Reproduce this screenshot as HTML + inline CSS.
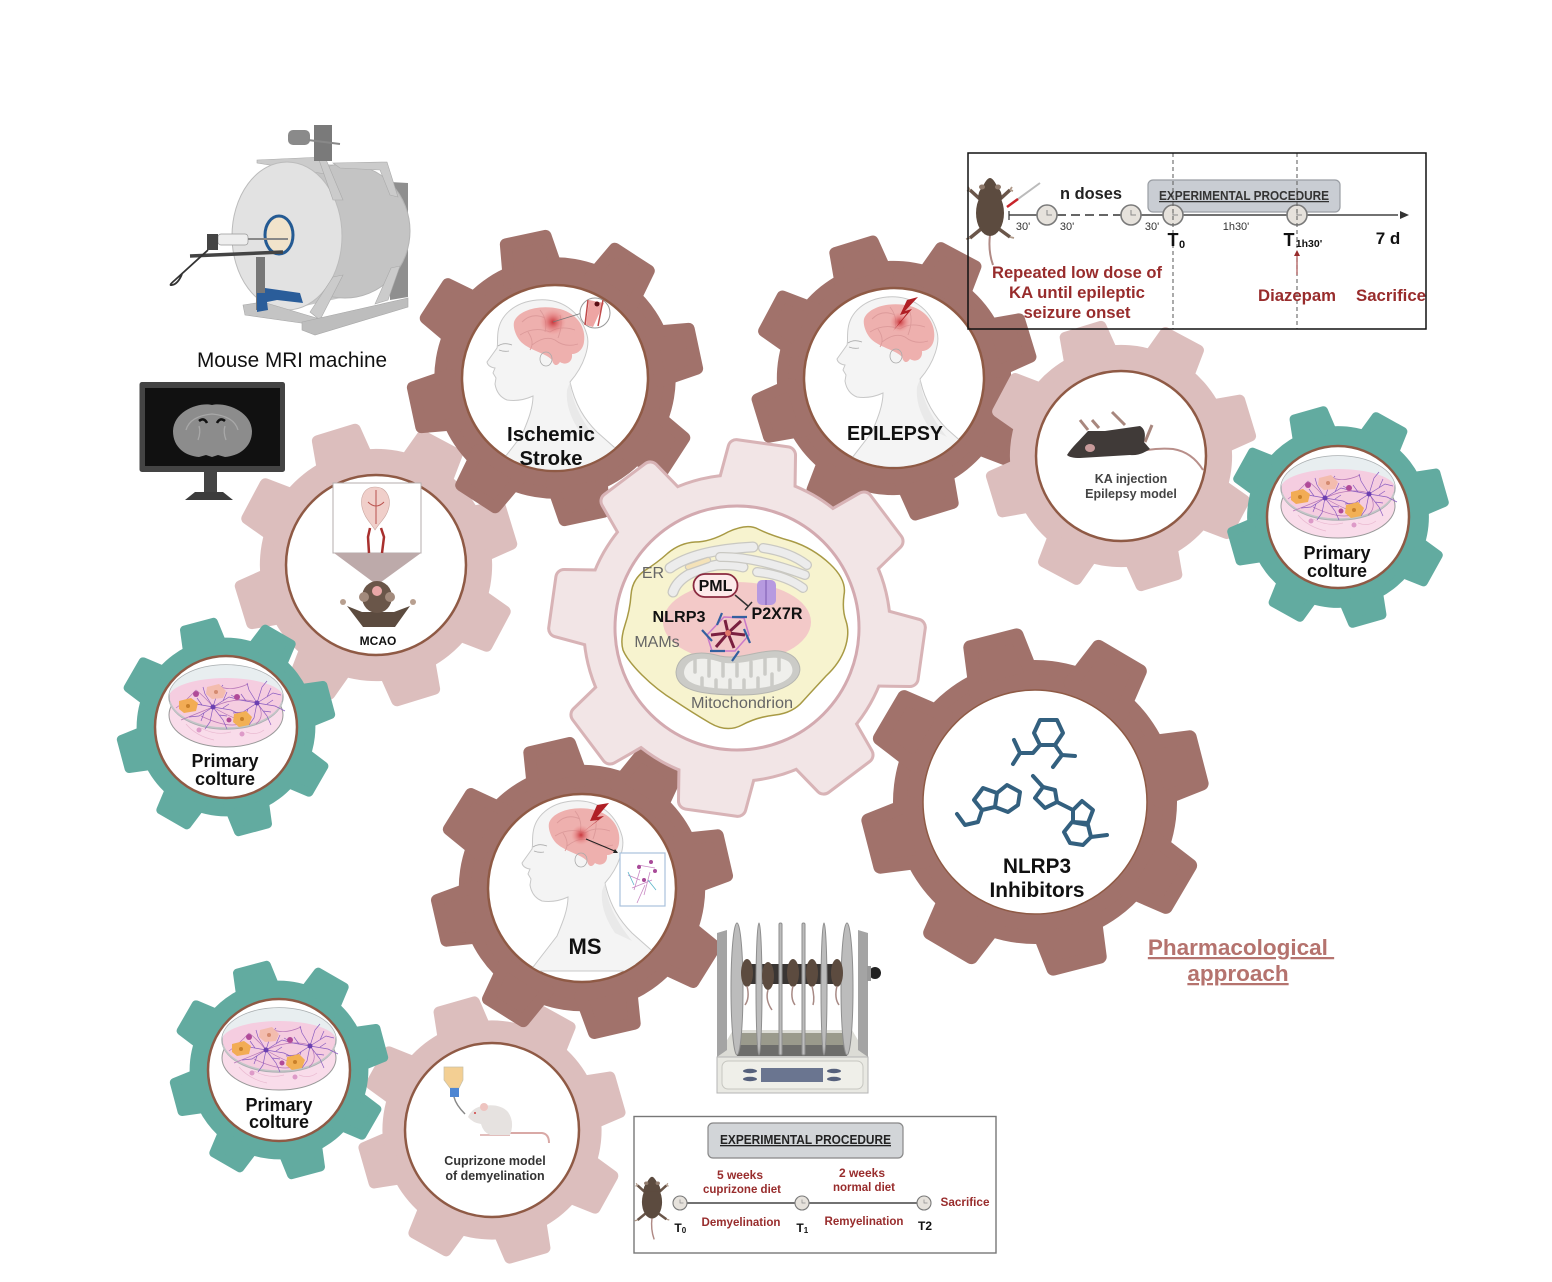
<!DOCTYPE html>
<html>
<head>
<meta charset="utf-8">
<style>
html,body{margin:0;padding:0;background:#fff}
svg{display:block}
text{font-family:"Liberation Sans",sans-serif}
.b{font-weight:700;fill:#111;text-anchor:middle}
.r{font-weight:700;fill:#982c2c;text-anchor:middle}
.g{fill:#666;text-anchor:middle}
</style>
</head>
<body>
<svg width="1552" height="1282" viewBox="0 0 1552 1282" xmlns="http://www.w3.org/2000/svg">
<defs>
<path id="t" d="M86 -21L118 -17L118 17L86 21Z" stroke-linejoin="round"/>
<g id="gear">
<circle r="96"/>
<use href="#t"/><use href="#t" transform="rotate(45)"/><use href="#t" transform="rotate(90)"/><use href="#t" transform="rotate(135)"/>
<use href="#t" transform="rotate(180)"/><use href="#t" transform="rotate(225)"/><use href="#t" transform="rotate(270)"/><use href="#t" transform="rotate(315)"/>
</g>
<clipPath id="c1"><circle cx="555" cy="378" r="92"/></clipPath>
<clipPath id="c2"><circle cx="894" cy="378" r="89"/></clipPath>
<clipPath id="c3"><circle cx="582" cy="888" r="93"/></clipPath>
<radialGradient id="les"><stop offset="0" stop-color="#c8363c"/><stop offset="1" stop-color="#e88" stop-opacity="0"/></radialGradient>
<g id="head">
<path d="M537 300C515 302 500 315 498 332C497 340 498 345 497 348L487 362Q488 367 495 368L493 373L496 378L495 384Q497 396 507 400Q520 402 533 396C533 410 526 425 522 435L495 470L640 470L597 432C585 420 575 405 570 382C585 365 590 345 587 335C580 310 560 298 537 300Z" fill="#f4f4f4" stroke="#c8c8c8" stroke-width="1"/>
<path d="M498 346Q504 342 512 345M499 350Q504 352 509 351" fill="none" stroke="#aaa" stroke-width=".8"/>
<path d="M570 382C572 405 585 425 597 440L580 432Q565 410 567 390Z" fill="#e9e9e9"/>
<path d="M514 322C518 310 540 304 560 309C578 314 586 328 584 342C583 350 577 354 572 354C573 362 566 366 560 362C556 368 553 364 552 360C545 352 525 350 518 338C515 333 513 327 514 322Z" fill="#eeb0ae"/>
<path d="M522 322Q532 312 545 318M520 335Q534 326 550 332Q560 325 575 330M532 345Q545 335 555 340Q565 348 578 344M540 310Q548 320 545 332M560 315Q563 325 558 338M530 350Q535 342 528 332" fill="none" stroke="#dc9a9a" stroke-width=".9"/>
<ellipse cx="546" cy="359" rx="6" ry="7" fill="none" stroke="#aaa" stroke-width=".8"/>
</g>
<g id="star" stroke="#8a5cc0" stroke-width=".7" fill="none">
<path d="M0 0L16 -10L24 -8M0 0L18 3L28 8M0 0L10 13L14 22M0 0L-3 15L-8 22M0 0L-14 9L-24 10M0 0L-17 -3L-26 -8M0 0L-8 -13L-10 -20M0 0L5 -16L10 -22M10 -6L14 -15M10 1L16 -3M6 8L14 9M-9 6L-12 14M-11 -2L-16 -9"/>
<circle r="2.500" fill="#6a3fb0" stroke="none"/>
</g>
<g id="dish">
<ellipse cx="0" cy="9" rx="57" ry="32" fill="#f9dcea" stroke="#999" stroke-width="1"/>
<ellipse cx="0" cy="-9" rx="57" ry="32" fill="#f5cde0" stroke="#a9aeb0" stroke-width="1.400"/>
<path d="M-57 -9A57 32 0 0 1 57 -9A57 19 0 0 0 -57 -9Z" fill="#e8eef0"/>
<path d="M-56 -5A57 32 0 0 0 56 -5" fill="none" stroke="#c4c6c8" stroke-width="1.500" transform="translate(0,1)"/>
<path d="M-13 1Q10 -10 31 -4M-13 1Q-30 8 -45 14M-13 1Q5 12 20 16M31 -4Q40 10 30 18M-30 -16Q-20 -8 -13 1M-8 -20Q5 -14 22 -22M-50 2Q-40 -5 -30 -16M14 18Q0 22 -25 10" fill="none" stroke="#b878b8" stroke-width=".7"/>
<path d="M-25 22Q-10 30 5 26M-40 18Q-30 30 -12 34M20 26Q30 30 38 24" fill="none" stroke="#e9b9d0" stroke-width=".7"/>
<use href="#star" x="-13" y="1"/><use href="#star" x="31" y="-3"/>
<path d="M-47 -5L-35 -8L-28 -3L-30 5L-42 7L-47 3Z" fill="#f2ac55"/><circle cx="-38" cy="0" r="2" fill="#c9802a"/>
<path d="M8 8L20 5L26 11L23 19L13 21L7 16Z" fill="#f2b055"/><circle cx="16" cy="13" r="2" fill="#c9802a"/>
<path d="M-19 -19L-7 -22L0 -15L-3 -8L-14 -7L-20 -12Z" fill="#f3bcae"/><circle cx="-10" cy="-14" r="2" fill="#d48a70"/>
<circle cx="-30" cy="-12" r="3" fill="#b04a98"/><circle cx="11" cy="-9" r="3" fill="#b04a98"/><circle cx="3" cy="14" r="2.500" fill="#b04a98"/><circle cx="-27" cy="24" r="2.500" fill="#dd9ac8"/><circle cx="16" cy="28" r="2.500" fill="#dd9ac8"/>
</g>
<g id="ms">
<path d="M0 22Q-2 38 3 52" fill="none" stroke="#b08a85" stroke-width="2"/>
<path d="M-8 -12L-20 -23M8 -12L20 -23M-9 16L-20 25M9 16L20 24" stroke="#6a564a" stroke-width="3.500" fill="none"/>
<path d="M-20 -23l-2 -3M-20 -23l-3 1M20 -23l2 -3M20 -23l3 1M-20 25l-4 1M20 24l4 1" stroke="#b09a8a" stroke-width="1.800"/>
<ellipse cx="0" cy="0" rx="14" ry="23" fill="#5c4b3f"/>
<path d="M-12 -14Q-12 -22 -7 -27Q-3 -35 0 -35Q3 -35 7 -27Q12 -22 12 -14Z" fill="#5c4b3f"/>
<ellipse cx="-8" cy="-26" rx="3" ry="2.500" fill="#8f7a6c"/><ellipse cx="8" cy="-26" rx="3" ry="2.500" fill="#8f7a6c"/>
</g>
<g id="clk">
<circle r="10" fill="#e6e2dc" stroke="#7a7a7a" stroke-width="1.600"/>
<path d="M0 -5V0H5" fill="none" stroke="#8a8a8a" stroke-width="1"/>
</g>
</defs>

<!-- gears back to front -->
<g transform="translate(376,565) rotate(-17) scale(1.15)"><use href="#gear" fill="#dcbebd" stroke="#dcbebd" stroke-width="10"/></g>
<g transform="translate(226,727) rotate(-15) scale(.885)"><use href="#gear" fill="#62aba0" stroke="#62aba0" stroke-width="10"/></g>
<g transform="translate(555,378) rotate(-12) scale(1.195)"><use href="#gear" fill="#a1726b" stroke="#a1726b" stroke-width="10"/></g>
<g transform="translate(894,378) rotate(-17) scale(1.16)"><use href="#gear" fill="#a1726b" stroke="#a1726b" stroke-width="10"/></g>
<g transform="translate(1121,456) rotate(-17) scale(1.1)"><use href="#gear" fill="#dcbebd" stroke="#dcbebd" stroke-width="10"/></g>
<g transform="translate(1338,517) rotate(-16) scale(.9)"><use href="#gear" fill="#62aba0" stroke="#62aba0" stroke-width="10"/></g>
<g transform="translate(492,1130) rotate(-16) scale(1.085)"><use href="#gear" fill="#dcbebd" stroke="#dcbebd" stroke-width="10"/></g>
<g transform="translate(279,1070) rotate(-15) scale(.885)"><use href="#gear" fill="#62aba0" stroke="#62aba0" stroke-width="10"/></g>
<g transform="translate(582,888) rotate(-13) scale(1.22)"><use href="#gear" fill="#a1726b" stroke="#a1726b" stroke-width="10"/></g>
<g transform="translate(1035,802) rotate(-14.5) scale(1.406)"><use href="#gear" fill="#a1726b" stroke="#a1726b" stroke-width="10"/></g>
<g transform="translate(737,628) rotate(8) scale(1.51)"><use href="#gear" fill="#d8b3b6" stroke="#d8b3b6" stroke-width="13"/><use href="#gear" fill="#f2e5e6" stroke="#f2e5e6" stroke-width="9"/></g>

<!-- inner circles -->
<g fill="#fff" stroke="#8f5a45" stroke-width="2.500">
<circle cx="376" cy="565" r="90"/>
<circle cx="226" cy="727" r="71"/>
<circle cx="555" cy="378" r="93"/>
<circle cx="894" cy="378" r="90"/>
<circle cx="1121" cy="456" r="85"/>
<circle cx="1338" cy="517" r="71"/>
<circle cx="492" cy="1130" r="87"/>
<circle cx="279" cy="1070" r="71"/>
<circle cx="582" cy="888" r="94"/>
</g>
<circle cx="1035" cy="802" r="112" fill="#fff" stroke="#8f5a45" stroke-width="1.500"/>
<circle cx="737" cy="628" r="122" fill="#fff" stroke="#d3aab0" stroke-width="3"/>

<!-- MRI -->
<polygon points="390,182 408,183 408,297 390,300" fill="#8f8f8f"/>
<polygon points="287,163 345,165 345,297 287,310" fill="#c6c6c6"/>
<ellipse cx="345" cy="231" rx="65" ry="67" fill="#c4c4c4" stroke="#b4b4b4"/>
<polygon points="257,160 323,157 332,175 257,163" fill="#cbcbcb" stroke="#aaa" stroke-width=".6"/>
<polygon points="333,163 387,162 398,197 390,195 380,170 340,168" fill="#cbcbcb" stroke="#aaa" stroke-width=".6"/>
<ellipse cx="287" cy="236" rx="55" ry="74" fill="#e2e2e2" stroke="#bbb"/>
<polygon points="318,157 325,157 343,200 333,200" fill="#cbcbcb" stroke="#aaa" stroke-width=".6"/>
<polygon points="320,320 343,275 333,277 310,312" fill="#cbcbcb" stroke="#aaa" stroke-width=".6"/>
<polygon points="388,300 400,266 391,268 375,304" fill="#cbcbcb" stroke="#aaa" stroke-width=".6"/>
<rect x="314" y="125" width="18" height="36" fill="#7a7a7a"/>
<rect x="288" y="130" width="22" height="15" rx="5" fill="#8a8a8a"/>
<path d="M308 140L340 144" stroke="#888" stroke-width="2"/>
<polygon points="243,305 263,302 323,320 315,325 245,315" fill="#c4c4c4" stroke="#a8a8a8" stroke-width=".6"/>
<polygon points="302,322 408,298 408,307 315,335 302,330" fill="#bdbdbd" stroke="#a8a8a8" stroke-width=".6"/>
<ellipse cx="279" cy="235" rx="14" ry="19" fill="#f1e3cb" stroke="#245a93" stroke-width="3"/>
<rect x="218" y="234" width="30" height="11" rx="3" fill="#eee" stroke="#999" stroke-width=".7"/>
<path d="M248 239H288" stroke="#888" stroke-width="2"/>
<rect x="207" y="234" width="11" height="16" fill="#444"/>
<path d="M190 256L283 252" stroke="#444" stroke-width="3.500"/>
<rect x="256" y="257" width="9" height="53" fill="#777"/>
<polygon points="257,293 265,293 265,288 300,293 303,303 277,300 267,302 268,310 257,312" fill="#2a5d9a"/>
<path d="M208 250L175 280Q168 286 172 285Q178 284 182 274" fill="none" stroke="#333" stroke-width="1.800"/>
<text x="292" y="367" font-size="21" fill="#111" text-anchor="middle" textLength="190" lengthAdjust="spacingAndGlyphs">Mouse MRI machine</text>

<!-- monitor -->
<rect x="139.500" y="382" width="145.500" height="90" rx="2.500" fill="#444"/>
<rect x="145" y="388" width="135" height="78" fill="#111"/>
<rect x="204" y="472" width="13" height="20" fill="#444"/>
<polygon points="195,492 223,492 233,500 185,500" fill="#3c3c3c"/>
<path d="M212 405C200 402 174 410 173 431C173 448 186 456 199 457L206 455L212 457L218 455L225 457C238 456 252 448 252 431C251 410 224 402 212 405Z" fill="#8c8c8c"/>
<path d="M186 430Q190 416 212 414Q234 416 238 430M198 440Q201 432 199 426M226 440Q223 432 225 426" stroke="#a8a8a8" fill="none" stroke-width="1.300"/>
<path d="M199 421Q204 417 207 423M217 423Q220 417 225 421" stroke="#111" fill="none" stroke-width="2.500"/>

<!-- MCAO -->
<rect x="333" y="483" width="88" height="70" fill="#fff" stroke="#b5adad" stroke-width="1"/>
<polygon points="334,553 421,553 377,585" fill="#bdaaaa"/>
<path d="M375 487C364 487 360 497 362 507C364 517 370 522 375 530C380 522 387 517 389 507C391 497 386 487 375 487Z" fill="#f0cfca" stroke="#c9a6a0" stroke-width=".6"/>
<path d="M376 490V524M368 502Q376 510 384 502" stroke="#b9524e" fill="none" stroke-width="1"/>
<path d="M370 528L368 537L369 553M381 528L384 537L382 553" stroke="#a8302e" fill="none" stroke-width="2.500"/>
<path d="M347 606L363 627H395L410 606L394 612H362Z" fill="#5c4b3f"/>
<ellipse cx="377" cy="597" rx="15" ry="16" fill="#6a5649"/>
<ellipse cx="364" cy="597" rx="5" ry="5" fill="#a28a7c"/><ellipse cx="390" cy="597" rx="5" ry="5" fill="#a28a7c"/>
<circle cx="377" cy="591" r="5" fill="#e9a7a7"/>
<circle cx="343" cy="602" r="3" fill="#b8a090"/><circle cx="413" cy="602" r="3" fill="#b8a090"/>
<text class="b" x="378" y="645" font-size="12">MCAO</text>

<!-- dishes -->
<use href="#dish" x="1338" y="497"/>
<use href="#dish" x="226" y="706"/>
<use href="#dish" x="279" y="1049"/>
<text class="b" font-size="18" x="1337" y="559">Primary</text><text class="b" font-size="18" x="1337" y="577">colture</text>
<text class="b" font-size="18" x="225" y="767">Primary</text><text class="b" font-size="18" x="225" y="785">colture</text>
<text class="b" font-size="18" x="279" y="1111">Primary</text><text class="b" font-size="18" x="279" y="1128">colture</text>

<!-- ischemic head -->
<g clip-path="url(#c1)"><use href="#head"/><circle cx="553" cy="322" r="13" fill="url(#les)"/></g>
<path d="M553 322L582 313" stroke="#777" stroke-width=".7"/>
<circle cx="595" cy="313" r="15" fill="#fff" stroke="#999"/>
<path d="M589 300L586 325L593 327L604 303Z" fill="#eea5a3"/>
<path d="M588 300L585 325M603 300L598 326" stroke="#c04a4a" stroke-width="1.500"/>
<circle cx="597" cy="304" r="2.500" fill="#5a0e14"/>
<text class="b" x="551" y="441" font-size="20.500" textLength="88" lengthAdjust="spacingAndGlyphs">Ischemic</text>
<text class="b" x="551" y="465" font-size="20.500" textLength="63" lengthAdjust="spacingAndGlyphs">Stroke</text>

<!-- epilepsy head -->
<g clip-path="url(#c2)"><use href="#head" x="350" y="-3"/><circle cx="900" cy="322" r="10" fill="url(#les)"/></g>
<polygon points="918,297 907,300 900,315 907,313 893,331 912,309 905,311" fill="#b01f25"/>
<text class="b" x="895" y="440" font-size="20" textLength="96" lengthAdjust="spacingAndGlyphs">EPILEPSY</text>

<!-- MS head -->
<g clip-path="url(#c3)"><use href="#head" x="35" y="501"/><circle cx="581" cy="835" r="10" fill="url(#les)"/></g>
<polygon points="609,803 597,805 590,821 598,820 583,832 604,816 597,817" fill="#b01f25"/>
<path d="M586 839L617 852" stroke="#222" stroke-width="1"/>
<polygon points="618,853 613,853 615,849" fill="#222"/>
<rect x="620" y="853" width="45" height="53" fill="#fff" stroke="#a9c2dd" stroke-width="1.200"/>
<path d="M638 865L655 868M640 870L634 890M650 872L644 895M628 875L640 880M632 888L652 880M645 885L637 903" stroke="#c98ac4" stroke-width=".8"/>
<path d="M628 872L634 885M648 880L656 890" stroke="#5bb5c8" stroke-width=".8"/>
<circle cx="639" cy="867" r="2" fill="#a84a98"/><circle cx="651" cy="862" r="2" fill="#a84a98"/><circle cx="644" cy="880" r="2" fill="#a84a98"/><circle cx="655" cy="871" r="2" fill="#a84a98"/>
<text class="b" x="585" y="954" font-size="22">MS</text>

<!-- KA mouse -->
<path d="M1147 450Q1160 448 1173 449Q1192 452 1203 470" fill="none" stroke="#b88f8a" stroke-width="2"/>
<path d="M1080 420L1088 430M1092 420L1099 428M1112 412L1125 425M1152 425L1145 442" stroke="#a8877e" stroke-width="3" fill="none"/>
<path d="M1067 455C1072 447 1080 440 1088 431L1105 431L1140 426Q1147 430 1144 442L1150 449Q1140 456 1130 455L1080 458Q1070 458 1067 455Z" fill="#403a38"/>
<ellipse cx="1090" cy="448" rx="5" ry="4" fill="#c89a9a"/>
<text x="1131" y="483" font-size="12.500" font-weight="700" fill="#444" text-anchor="middle">KA injection</text>
<text x="1131" y="498" font-size="12.500" font-weight="700" fill="#444" text-anchor="middle">Epilepsy model</text>

<!-- center cell -->
<path d="M695 542Q710 542 728 532Q747 523 758 529Q770 535 791 541Q813 548 830 564Q847 580 844 595Q842 610 846 621Q850 633 845 648Q840 663 826 676Q813 690 803 701Q793 713 775 715Q757 717 742 725Q727 733 710 723Q693 713 675 701Q657 690 642 675Q627 660 623 650Q620 640 625 625Q630 610 631 595Q632 580 644 571Q657 563 668 553Q680 543 695 542Z" fill="#f7f3cf" stroke="#a89a45" stroke-width="1.500"/>
<ellipse cx="737" cy="622" rx="74" ry="40" fill="#f3c9c8"/>
<g fill="none" stroke-linecap="round">
<g stroke="#c9c8c2" stroke-width="11"><path d="M673 592Q680 572 717 565Q732 564 743 567"/><path d="M670 568Q695 550 753 547"/></g>
<g stroke="#ececec" stroke-width="8.500"><path d="M673 592Q680 572 717 565Q732 564 743 567"/><path d="M670 568Q695 550 753 547"/></g>
<path d="M688 567L708 560" stroke="#c9c8c2" stroke-width="6.500"/><path d="M688 567L708 560" stroke="#f4e2b8" stroke-width="4"/>
<path d="M720 557Q753 556 805 575" stroke="#c9c8c2" stroke-width="10"/><path d="M720 557Q753 556 805 575" stroke="#ececec" stroke-width="7.500"/>
<path d="M763 548Q790 552 807 565" stroke="#c9c8c2" stroke-width="10"/><path d="M763 548Q790 552 807 565" stroke="#ececec" stroke-width="7.500"/>
<path d="M757 572Q785 575 803 588" stroke="#c9c8c2" stroke-width="10"/><path d="M757 572Q785 575 803 588" stroke="#ececec" stroke-width="7.500"/>
</g>
<path d="M676 672C678 652 700 650 720 656C745 662 775 640 795 658C810 675 790 695 740 695C700 695 676 690 676 672Z" fill="#cbcbc7" stroke="#b5b5b0"/>
<path d="M684 672C686 658 702 656 720 662C745 668 772 650 789 662C800 675 785 689 740 689C705 689 684 685 684 672Z" fill="#efefec"/>
<path d="M695 659V672M709 660V676M723 662V676M737 664V676M751 662V676M765 658V674M779 654V670M702 688V678M716 689V680M730 689V680M744 689V680M758 688V678M772 686V674" stroke="#cbcbc7" stroke-width="3.500" stroke-linecap="round" fill="none"/>
<rect x="757" y="580" width="19" height="25" rx="5" fill="#b79ae0"/>
<path d="M766 580V605" stroke="#8f6fc0" stroke-width="1.500"/>
<rect x="693.500" y="574" width="44" height="23" rx="11.500" fill="#fdeaea" stroke="#8a2a3f" stroke-width="1.800"/>
<text class="b" x="715.500" y="591" font-size="16">PML</text>
<path d="M735 595L748 606M752 602L745 610" stroke="#333" stroke-width="1.500" fill="none"/>
<g transform="translate(728,633)">
<polygon points="-4,-16 16,-15 21,2 7,18 -16,18 -21,2" fill="none" stroke="#c97ac9" stroke-width="1.500"/>
<path d="M0 0L-3 -13M0 0L13 -12M0 0L17 2M0 0L6 15M0 0L-12 14M0 0L-17 2" stroke="#7a2040" stroke-width="3"/>
<circle r="3" fill="#e2786a"/>
<path d="M-6 -20L-11 -8M4 -16H19M16 -4L22 10M11 18L4 28M-18 18H-3M-26 -3L-16 8" stroke="#33609f" stroke-width="2.200"/>
</g>
<text class="b" x="679" y="622" font-size="16" textLength="53" lengthAdjust="spacingAndGlyphs">NLRP3</text>
<text class="b" x="777" y="619" font-size="16.500" textLength="51" lengthAdjust="spacingAndGlyphs">P2X7R</text>
<text class="g" x="653" y="578" font-size="16">ER</text>
<text class="g" x="657" y="647" font-size="16">MAMs</text>
<text class="g" x="742" y="708" font-size="16" textLength="102" lengthAdjust="spacingAndGlyphs">Mitochondrion</text>

<!-- inhibitors -->
<g fill="none" stroke="#33607f" stroke-width="4" stroke-linejoin="round" stroke-linecap="round">
<polygon points="1040,720 1057,720 1063,733 1055,745 1040,745 1034,733"/>
<path d="M1040 745L1033 753L1020 753L1014 740M1020 753L1013 764M1055 745L1062 755L1075 756M1062 755L1053 767"/>
<polygon points="1007,785 1020,792 1018,805 1008,812 995,807 997,793"/>
<path d="M997 793L983 788L974 800L982 810L995 807M982 810L978 822L965 825L957 814"/>
<polygon points="1043,787 1055,790 1057,802 1045,808 1035,798"/>
<path d="M1043 787L1033 776M1057 802L1073 810"/>
<polygon points="1073,810 1082,801 1093,810 1088,823 1073,822"/>
<polygon points="1072,822 1088,825 1091,837 1083,845 1070,843 1064,832"/>
<path d="M1091 837L1107 835"/>
</g>
<text class="b" x="1037" y="873" font-size="21" textLength="68" lengthAdjust="spacingAndGlyphs">NLRP3</text>
<text class="b" x="1037" y="897" font-size="21" textLength="95" lengthAdjust="spacingAndGlyphs">Inhibitors</text>

<!-- pharmacological -->
<text x="1241" y="955" font-size="22.500" font-weight="700" fill="#b5736e" text-anchor="middle" text-decoration="underline" xml:space="preserve">Pharmacological </text>
<text x="1238" y="981" font-size="22.500" font-weight="700" fill="#b5736e" text-anchor="middle" text-decoration="underline">approach</text>

<!-- rack -->
<polygon points="717,1057 733,1030 852,1030 868,1057" fill="#dcdcd6"/>
<rect x="737" y="1033" width="110" height="12" fill="#9a9a8c"/>
<rect x="737" y="1045" width="110" height="11" fill="#6d6d6b"/>
<polygon points="717,933 727,930 727,1050 717,1057" fill="#a4a4a4"/>
<polygon points="858,930 868,933 868,1057 858,1050" fill="#a4a4a4"/>
<rect x="738" y="964" width="109" height="20" fill="#3a3634"/>
<g fill="#bcbcbc" stroke="#8e8e8e">
<ellipse cx="737" cy="989" rx="6" ry="66"/><ellipse cx="847" cy="989" rx="6" ry="66"/>
<ellipse cx="759" cy="989" rx="3" ry="66"/><ellipse cx="824" cy="989" rx="3" ry="66"/>
<rect x="779" y="923" width="3" height="132" rx="1.500"/><rect x="802" y="923" width="3" height="132" rx="1.500"/>
</g>
<g fill="#5c4b3f">
<ellipse cx="747" cy="973" rx="6" ry="14"/><ellipse cx="768" cy="976" rx="6" ry="14"/><ellipse cx="793" cy="973" rx="6" ry="14"/><ellipse cx="812" cy="973" rx="6" ry="14"/><ellipse cx="837" cy="973" rx="6" ry="14"/>
</g>
<g stroke="#a88a85" fill="none" stroke-width="1.500">
<path d="M747 986Q750 998 745 1005"/><path d="M768 990Q765 1000 772 1010"/><path d="M793 986Q790 998 795 1005"/><path d="M812 986Q815 998 813 1005"/><path d="M837 986Q834 998 839 1005"/>
</g>
<circle cx="875" cy="973" r="6" fill="#222"/><rect x="867" y="966" width="4" height="15" fill="#999"/>
<rect x="717" y="1057" width="151" height="36" fill="#e9e9e3" stroke="#b5b5b5"/>
<rect x="722" y="1061" width="141" height="28" rx="6" fill="#efefe9" stroke="#c7c7c1"/>
<rect x="761" y="1068" width="62" height="14" fill="#6a7590"/>
<g fill="#56617c"><ellipse cx="750" cy="1071" rx="7" ry="2.200"/><ellipse cx="750" cy="1079" rx="7" ry="2.200"/><ellipse cx="834" cy="1071" rx="7" ry="2.200"/><ellipse cx="834" cy="1079" rx="7" ry="2.200"/></g>

<!-- cuprizone -->
<path d="M444 1067H463V1080L459 1088H450L444 1080Z" fill="#f3cf93" stroke="#c8c0a8" stroke-width=".7"/>
<rect x="450" y="1088" width="9" height="9" fill="#4e86d2"/>
<path d="M454 1097Q456 1105 465 1114" stroke="#888" stroke-width="1.500" fill="none"/>
<path d="M510 1133H542Q549 1134 549 1143" fill="none" stroke="#d9a9a6" stroke-width="2"/>
<path d="M480 1135H510" stroke="#d9a9a6" stroke-width="1.500"/>
<path d="M468 1117Q472 1108 482 1106Q500 1103 508 1112Q515 1122 510 1135H490Q483 1132 481 1124Q473 1123 468 1117Z" fill="#e6e2e0"/>
<circle cx="484" cy="1107" r="4" fill="#eec4c0"/>
<circle cx="475" cy="1113" r="1" fill="#d04040"/>
<text x="495" y="1165" font-size="12.500" font-weight="700" fill="#333" text-anchor="middle">Cuprizone model</text>
<text x="495" y="1180" font-size="12.500" font-weight="700" fill="#333" text-anchor="middle">of demyelination</text>

<!-- top box -->
<rect x="1148" y="180" width="192" height="32" rx="5" fill="#c9cdd3" stroke="#9a9ea4" stroke-width="1.200"/>
<text x="1244" y="200" font-size="12.500" font-weight="700" fill="#333" text-anchor="middle" text-decoration="underline" textLength="170" lengthAdjust="spacingAndGlyphs">EXPERIMENTAL PROCEDURE</text>
<path d="M1009 215H1050" stroke="#444" stroke-width="1.500"/><path d="M1009 211V220" stroke="#333" stroke-width="1.200"/>
<path d="M1057 215H1121" stroke="#fff" stroke-width="3"/><path d="M1057 215H1121" stroke="#333" stroke-width="1.500" stroke-dasharray="9 5"/>
<path d="M1131 215H1398" stroke="#444" stroke-width="1.500"/>
<polygon points="1409,215 1400,211 1400,219" fill="#333"/>
<use href="#clk" x="1047" y="215"/><use href="#clk" x="1131" y="215"/><use href="#clk" x="1173" y="215"/><use href="#clk" x="1297" y="215"/>
<path d="M1173 153V329M1297 153V329" stroke="#666" stroke-width="1.100" stroke-dasharray="4 3"/>
<g font-size="11" fill="#333" text-anchor="middle"><text x="1023" y="230">30'</text><text x="1067" y="230">30'</text><text x="1152" y="230">30'</text><text x="1236" y="230">1h30'</text></g>
<text x="1091" y="199" font-size="17" font-weight="700" fill="#222" text-anchor="middle" textLength="62" lengthAdjust="spacingAndGlyphs">n doses</text>
<text class="b" x="1173" y="246" font-size="18">T</text><text class="b" x="1182" y="248" font-size="11">0</text>
<text class="b" x="1289" y="246" font-size="18">T</text><text class="b" x="1309" y="247" font-size="10.500">1h30'</text>
<text class="b" x="1388" y="244" font-size="17">7 d</text>
<path d="M1297 275V255" stroke="#982c2c" stroke-width="1"/><polygon points="1297,250 1294,256 1300,256" fill="#982c2c"/>
<text class="r" x="1077" y="278" font-size="17" textLength="170" lengthAdjust="spacingAndGlyphs">Repeated low dose of</text>
<text class="r" x="1077" y="298" font-size="17" textLength="136" lengthAdjust="spacingAndGlyphs">KA until epileptic</text>
<text class="r" x="1077" y="318" font-size="17" textLength="107" lengthAdjust="spacingAndGlyphs">seizure onset</text>
<text class="r" x="1297" y="301" font-size="17" textLength="78" lengthAdjust="spacingAndGlyphs">Diazepam</text>
<text class="r" x="1391" y="301" font-size="17" textLength="70" lengthAdjust="spacingAndGlyphs">Sacrifice</text>
<use href="#ms" x="990" y="213"/>
<path d="M1007 207L1040 183" stroke="#bbb" stroke-width="2"/><path d="M1007 207L1018 199" stroke="#c8242a" stroke-width="2.500"/>
<rect x="968" y="153" width="458" height="176" fill="none" stroke="#111" stroke-width="1.500"/>

<!-- bottom box -->
<rect x="634" y="1116.500" width="362" height="136.500" fill="#fff" stroke="#777" stroke-width="1.400"/>
<rect x="708" y="1123" width="195" height="35" rx="5" fill="#d2d5d8" stroke="#888" stroke-width="1.200"/>
<text x="805.500" y="1144" font-size="13" font-weight="700" fill="#222" text-anchor="middle" text-decoration="underline" textLength="171" lengthAdjust="spacingAndGlyphs">EXPERIMENTAL PROCEDURE</text>
<path d="M680 1203H924" stroke="#444" stroke-width="1.500"/>
<g transform="translate(680,1203) scale(.7)"><use href="#clk"/></g>
<g transform="translate(802,1203) scale(.7)"><use href="#clk"/></g>
<g transform="translate(924,1203) scale(.7)"><use href="#clk"/></g>
<text class="r" x="740" y="1179" font-size="12">5 weeks</text>
<text class="r" x="742" y="1193" font-size="12" textLength="78" lengthAdjust="spacingAndGlyphs">cuprizone diet</text>
<text class="r" x="862" y="1177" font-size="12">2 weeks</text>
<text class="r" x="864" y="1191" font-size="12" textLength="62" lengthAdjust="spacingAndGlyphs">normal diet</text>
<text class="r" x="741" y="1226" font-size="12" textLength="79" lengthAdjust="spacingAndGlyphs">Demyelination</text>
<text class="r" x="864" y="1225" font-size="12" textLength="79" lengthAdjust="spacingAndGlyphs">Remyelination</text>
<text class="r" x="965" y="1206" font-size="12" textLength="49" lengthAdjust="spacingAndGlyphs">Sacrifice</text>
<text class="b" x="678" y="1232" font-size="12">T</text><text class="b" x="684" y="1233" font-size="8">0</text>
<text class="b" x="800" y="1232" font-size="12">T</text><text class="b" x="806" y="1233" font-size="8">1</text>
<text class="b" x="925" y="1230" font-size="12">T2</text>
<g transform="translate(652,1202) scale(.72)"><use href="#ms"/></g>
</svg>
</body>
</html>
